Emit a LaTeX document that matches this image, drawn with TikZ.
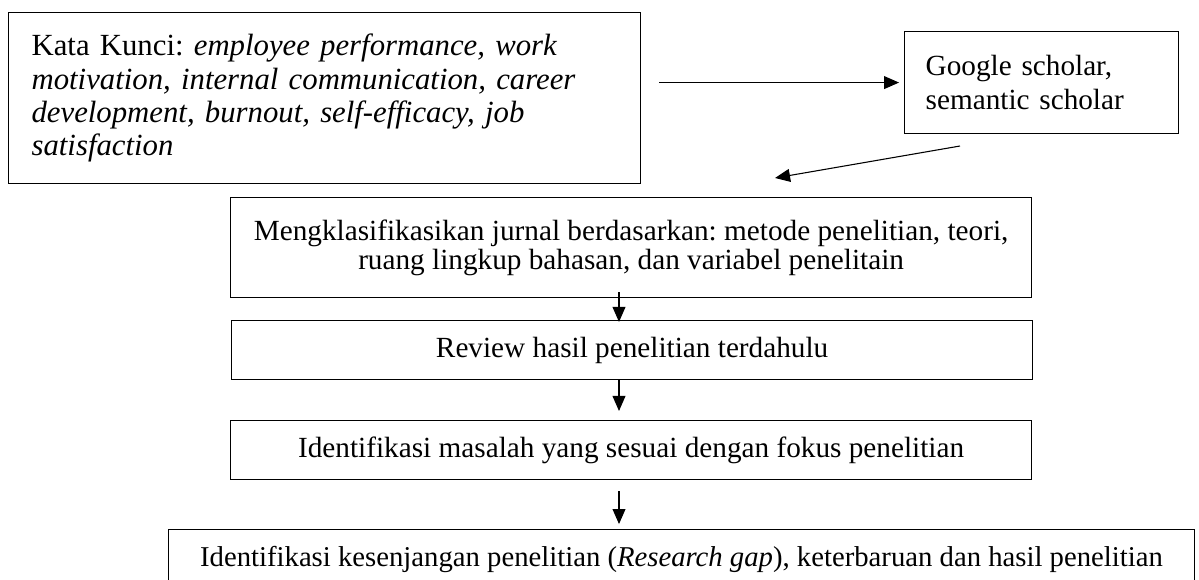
\documentclass[tikz,border=0pt]{standalone}
\usepackage{fontspec}
\setmainfont{Liberation Serif}
\frenchspacing
\usetikzlibrary{arrows.meta}

\begin{document}
\begin{tikzpicture}[
  x=0.465pt, y=-0.465pt,
  box/.style={draw, line width=0.55pt, anchor=north west, inner sep=0pt,
    font=\fontsize{13.6}{13.5}\selectfont},
  wide/.style={minimum width=372.5pt, minimum height=27.4pt},
  arr/.style={-{Triangle[length=7pt,width=6pt]}, line width=0.5pt}
]
\useasboundingbox (0,0) rectangle (1199,579);
\clip (0,0) rectangle (1199,579);

% ---- top row: keywords and sources ----
\node[box, text width=272.5pt, inner xsep=10.7pt, minimum height=79.5pt,
  align=left, font=\fontsize{14.3}{15.4}\selectfont] (kunci) at (8,12)
  {Kata Kunci: \textit{employee performance, work}\\
   \textit{motivation, internal communication, career}\\
   \textit{development, burnout, self-efficacy, job}\\
   \textit{satisfaction}};

\node[box, text width=107.8pt, inner xsep=9.8pt, minimum height=47.4pt,
  align=left, font=\fontsize{13.6}{15.8}\selectfont] (sumber) at (904,31)
  {Google scholar,\\ semantic scholar};

% ---- steps ----
\node[box, wide, minimum height=46.5pt, align=center] (klasifikasi) at (230,197)
  {Mengklasifikasikan jurnal berdasarkan: metode penelitian, teori,\\
   ruang lingkup bahasan, dan variabel penelitain};
\node[box, wide] (review) at (231,320) {Review hasil penelitian terdahulu};
\node[box, wide] (masalah) at (230,420)
  {Identifikasi masalah yang sesuai dengan fokus penelitian};
\node[box, minimum width=477pt, minimum height=27.9pt,
  font=\fontsize{13.35}{13.5}\selectfont] (gap) at (168,529)
  {Identifikasi kesenjangan penelitian (\textit{Research gap}), keterbaruan dan hasil penelitian};

% ---- connectors ----
\coordinate (cari) at (960,146);
\coordinate (masuk) at (775,178);
\coordinate (poros) at (619,0);

\draw[arr, shorten <=8.4pt, shorten >=2.3pt] (kunci.east |- sumber.west) -- (sumber.west);
\draw[arr] (cari) -- (masuk);
\draw[arr, shorten <=-2.8pt, shorten >=-0.9pt] (klasifikasi.south -| poros) -- (review.north -| poros);
\draw[arr, shorten >=4.2pt] (review.south -| poros) -- (masalah.north -| poros);
\draw[arr, shorten <=5.1pt, shorten >=2.3pt] (masalah.south -| poros) -- (gap.north -| poros);

\end{tikzpicture}
\end{document}
